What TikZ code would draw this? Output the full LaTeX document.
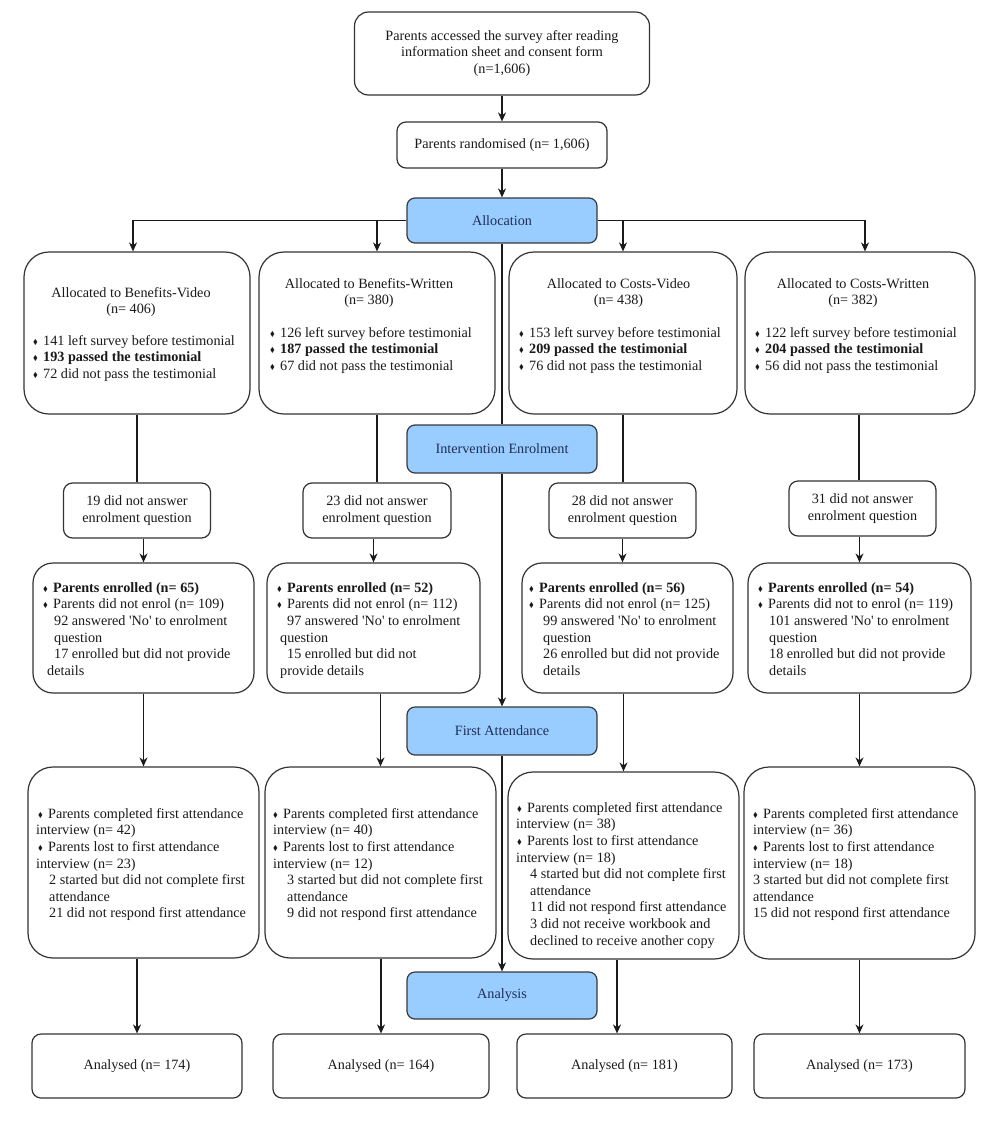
\documentclass[tikz,border=0pt]{standalone}
\usepackage{fontspec}
\setmainfont{Liberation Serif}
\usepackage{amssymb}
\usepackage{graphicx}
\usetikzlibrary{arrows.meta}
\definecolor{ln}{HTML}{333333}
\definecolor{tx}{HTML}{1A1A1A}
\definecolor{bfill}{HTML}{99CCFF}
\definecolor{bline}{HTML}{36393D}
\definecolor{btext}{HTML}{1F2F55}
\newcommand\fsz{\fontsize{14.2}{16.6}\selectfont}
\newcommand\bulx{\makebox[10pt][l]{\raisebox{1pt}{\scalebox{0.5}{$\blacklozenge$}}}}
\newcommand\myq{\textquotesingle}
\newcommand\mystrut{\rule{0pt}{11pt}}
\begin{document}
\begin{tikzpicture}[x=1pt,y=-1pt,
  every node/.style={text=tx,font=\fsz},
  box/.style={draw=ln, line width=1.2pt, fill=white, inner sep=0pt, align=center},
  bigbox/.style={box, rounded corners=25pt},
  midbox/.style={box, rounded corners=20pt},
  smallbox/.style={box, rounded corners=9pt},
  bluebox/.style={draw=bline, line width=1.2pt, fill=bfill, text=btext, rounded corners=8pt, minimum width=190pt, inner sep=0pt},
  txt/.style={inner sep=0pt, align=left, anchor=north west},
  ttl/.style={inner sep=0pt, align=center, anchor=north},
  con/.style={draw=tx, line width=1.2pt},
  arr/.style={con, -{Stealth[length=9pt,width=8pt]}}]
\fill[white] (0,0) rectangle (992,1125);
\useasboundingbox (0,0) rectangle (992,1125);

% top
\node[box, rounded corners=14pt, minimum width=295pt, minimum height=83pt] (top) at (502,53.5)
  {Parents accessed the survey after reading\\information sheet and consent form\\(n=1,606)};
\node[smallbox, minimum width=210pt, minimum height=46pt] (rand) at (502,145) {Parents randomised (n= 1,606)};
\node[bluebox, minimum height=45pt] (alloc) at (502,220.5) {Allocation};
\node[bluebox, minimum height=48pt] (enrol) at (502,449) {Intervention Enrolment};
\node[bluebox, minimum height=48pt] (fa) at (502,731) {First Attendance};
\node[bluebox, minimum height=47pt] (an) at (502,995.5) {Analysis};

% allocation boxes
\node[bigbox, minimum width=226pt, minimum height=162pt] (a1) at (137,333) {};
\node[bigbox, minimum width=236pt, minimum height=162pt] (a2) at (377,333) {};
\node[bigbox, minimum width=228pt, minimum height=162pt] (a3) at (623,333) {};
\node[bigbox, minimum width=230pt, minimum height=162pt] (a4) at (860,333) {};

\node[ttl] (a1h) at (131,286) {\mystrut Allocated to Benefits-Video\\(n= 406)};
\node[txt] (a1t) at (33,334) {\mystrut\bulx 141 left survey before testimonial\\\bulx\textbf{193 passed the testimonial}\\\bulx 72 did not pass the testimonial};
\node[ttl] (a2h) at (369,277) {\mystrut Allocated to Benefits-Written\\(n= 380)};
\node[txt] (a2t) at (270,326) {\mystrut\bulx 126 left survey before testimonial\\\bulx\textbf{187 passed the testimonial}\\\bulx 67 did not pass the testimonial};
\node[ttl] (a3h) at (618.5,277) {\mystrut Allocated to Costs-Video\\(n= 438)};
\node[txt] (a3t) at (519,326) {\mystrut\bulx 153 left survey before testimonial\\\bulx\textbf{209 passed the testimonial}\\\bulx 76 did not pass the testimonial};
\node[ttl] (a4h) at (853,277) {\mystrut Allocated to Costs-Written\\(n= 382)};
\node[txt] (a4t) at (755,326) {\mystrut\bulx 122 left survey before testimonial\\\bulx\textbf{204 passed the testimonial}\\\bulx 56 did not pass the testimonial};

% did not answer
\node[smallbox, minimum width=147pt, minimum height=55pt] (d1) at (137,510.5) {19 did not answer\\enrolment question};
\node[smallbox, minimum width=148pt, minimum height=55pt] (d2) at (377,510.5) {23 did not answer\\enrolment question};
\node[smallbox, minimum width=147pt, minimum height=55pt] (d3) at (622.5,510.5) {28 did not answer\\enrolment question};
\node[smallbox, minimum width=147pt, minimum height=55pt] (d4) at (862.5,508.5) {31 did not answer\\enrolment question};

% enrolled
\node[midbox, minimum width=221pt, minimum height=130pt] (e1) at (143.5,628) {};
\node[midbox, minimum width=213pt, minimum height=130pt] (e2) at (373.5,628) {};
\node[midbox, minimum width=211pt, minimum height=130pt] (e3) at (627.5,628) {};
\node[midbox, minimum width=223pt, minimum height=130pt] (e4) at (859.5,628) {};

\node[txt] (e1t) at (43,581) {\mystrut\bulx\textbf{Parents enrolled (n= 65)}\\
  \bulx Parents did not enrol (n= 109)\\
  \hspace*{11pt}92 answered \myq No\myq{} to enrolment\\
  \hspace*{11pt}question\\
  \hspace*{11pt}17 enrolled but did not provide\\
  \hspace*{4pt}details};
\node[txt] (e2t) at (277,581) {\mystrut\bulx\textbf{Parents enrolled (n= 52)}\\
  \bulx Parents did not enrol (n= 112)\\
  \hspace*{10pt}97 answered \myq No\myq{} to enrolment\\
  \hspace*{3pt}question\\
  \hspace*{10pt}15 enrolled but did not\\
  \hspace*{3pt}provide details};
\node[txt] (e3t) at (529,581) {\mystrut\bulx\textbf{Parents enrolled (n= 56)}\\
  \bulx Parents did not enrol (n= 125)\\
  \hspace*{14pt}99 answered \myq No\myq{} to enrolment\\
  \hspace*{14pt}question\\
  \hspace*{14pt}26 enrolled but did not provide\\
  \hspace*{14pt}details};
\node[txt] (e4t) at (758,581) {\mystrut\bulx\textbf{Parents enrolled (n= 54)}\\
  \bulx Parents did not to enrol (n= 119)\\
  \hspace*{11pt}101 answered \myq No\myq{} to enrolment\\
  \hspace*{11pt}question\\
  \hspace*{11pt}18 enrolled but did not provide\\
  \hspace*{11pt}details};

% first attendance
\node[bigbox, minimum width=231pt, minimum height=191pt] (f1) at (143.5,862.5) {};
\node[bigbox, minimum width=231pt, minimum height=191pt] (f2) at (380.5,862.5) {};
\node[bigbox, minimum width=231pt, minimum height=187pt] (f3) at (623.5,865.5) {};
\node[bigbox, minimum width=231pt, minimum height=192pt] (f4) at (859.5,863) {};

\node[txt] (f1t) at (36,807) {\mystrut\hspace*{2pt}\bulx Parents completed first attendance\\
  interview (n= 42)\\
  \hspace*{2pt}\bulx Parents lost to first attendance\\
  interview (n= 23)\\
  \hspace*{13pt}2 started but did not complete first\\
  \hspace*{13pt}attendance\\
  \hspace*{13pt}21 did not respond first attendance};
\node[txt] (f2t) at (273,807) {\mystrut\bulx Parents completed first attendance\\
  interview (n= 40)\\
  \bulx Parents lost to first attendance\\
  interview (n= 12)\\
  \hspace*{14pt}3 started but did not complete first\\
  \hspace*{14pt}attendance\\
  \hspace*{14pt}9 did not respond first attendance};
\node[txt] (f3t) at (516,801) {\mystrut\hspace*{1pt}\bulx Parents completed first attendance\\
  interview (n= 38)\\
  \hspace*{1pt}\bulx Parents lost to first attendance\\
  interview (n= 18)\\
  \hspace*{14pt}4 started but did not complete first\\
  \hspace*{14pt}attendance\\
  \hspace*{14pt}11 did not respond first attendance\\
  \hspace*{14pt}3 did not receive workbook and\\
  \hspace*{14pt}declined to receive another copy};
\node[txt] (f4t) at (753,807) {\mystrut\bulx Parents completed first attendance\\
  interview (n= 36)\\
  \bulx Parents lost to first attendance\\
  interview (n= 18)\\
  3 started but did not complete first\\
  attendance\\
  15 did not respond first attendance};

% analysed
\node[smallbox, minimum width=210pt, minimum height=64pt] (n1) at (137,1066) {Analysed (n= 174)};
\node[smallbox, minimum width=216pt, minimum height=64pt] (n2) at (381,1066) {Analysed (n= 164)};
\node[smallbox, minimum width=215pt, minimum height=64pt] (n3) at (624.5,1066) {Analysed (n= 181)};
\node[smallbox, minimum width=211pt, minimum height=64pt] (n4) at (859.5,1066) {Analysed (n= 173)};

% connectors
\draw[arr] (top) -- (rand);
\draw[arr] (rand) -- (alloc);
\coordinate (h1) at (133,220.5);
\coordinate (h2) at (377,220.5);
\coordinate (h3) at (623,220.5);
\coordinate (h4) at (865,220.5);
\draw[arr] (alloc.west) -- (h1) -- (h1 |- a1.north);
\draw[arr] (alloc.east) -- (h4) -- (h4 |- a4.north);
\draw[arr] (h2) -- (h2 |- a2.north);
\draw[arr] (h3) -- (h3 |- a3.north);
\draw[con] (alloc) -- (enrol);
\draw[arr] (enrol) -- (fa);
\draw[arr] (fa) -- (an);

\draw[con] (a1.south) -- (a1.south |- d1.north);
\draw[con] (a2.south) -- (a2.south |- d2.north);
\draw[con] (a3.south) -- (a3.south |- d3.north);
\draw[con] ([xshift=-1pt]a4.south) -- ([xshift=-1pt]a4.south |- d4.north);

\draw[arr] (e1.north |- d1.south) -- (e1.north);
\draw[arr] (e2.north |- d2.south) -- (e2.north);
\draw[arr] (d3.south) -- (d3.south |- e3.north);
\draw[arr] (e4.north |- d4.south) -- (e4.north);

\draw[arr] (e1.south) -- (e1.south |- f1.north);
\draw[arr] (f2.north |- e2.south) -- (f2.north);
\draw[arr] (f3.north |- e3.south) -- (f3.north);
\draw[arr] (e4.south) -- (e4.south |- f4.north);

\draw[arr] (n1.north |- f1.south) -- (n1.north);
\draw[arr] (n2.north |- f2.south) -- (n2.north);
\draw[arr] ([xshift=-7.5pt]n3.north |- f3.south) -- ([xshift=-7.5pt]n3.north);
\draw[arr] (n4.north |- f4.south) -- (n4.north);
\end{tikzpicture}
\end{document}
